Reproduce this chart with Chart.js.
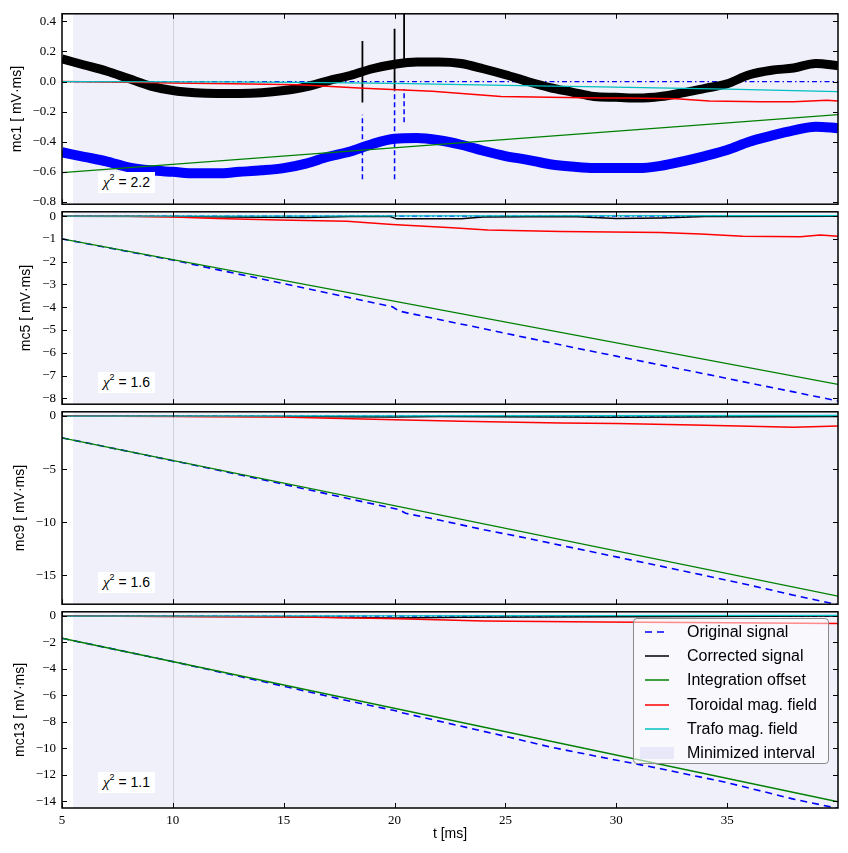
<!DOCTYPE html>
<html>
<head>
<meta charset="utf-8">
<title>Integrator drift correction</title>
<script src="https://cdn.jsdelivr.net/npm/chart.js@4.4.1/dist/chart.umd.min.js"></script>
<style>
    body { margin: 0; background: #fff; }
    #wrap { position: relative; width: 848px; height: 853px; overflow: hidden; }
    #wrap canvas { position: absolute; left: 0; }
    .chi {
        position: absolute; left: 98px; width: 57px; height: 21px;
        background: #fff; color: #000; text-align: center;
        font: 14px "Liberation Sans", Arial, sans-serif; line-height: 21px;
    }
    .chi i { font-family: "Liberation Serif", serif; font-size: 15px; }
    .chi sup { font-size: 9px; line-height: 0; position: relative; top: -1px; }
    #legend {
        position: absolute; left: 633px; top: 618px; width: 194px; height: 143px;
        border: 1px solid #8a8a8a; border-radius: 4px; background: rgba(255, 255, 255, 0.55);
        padding-top: 1px; box-sizing: content-box;
        font: 16px "Liberation Sans", Arial, sans-serif; color: #000;
    }
    #legend .row { height: 24.2px; display: flex; align-items: center; padding-left: 6px; }
    #legend svg { width: 34px; height: 14px; margin-right: 13px; flex: none; }
</style>
</head>
<body>
<div id="wrap">
    <canvas id="p0"></canvas>
    <canvas id="p1"></canvas>
    <canvas id="p2"></canvas>
    <canvas id="p3"></canvas>
    <div id="legend"></div>
</div>
<script>
// ---- shared axis data ----
const channelNames = ['mc1', 'mc5', 'mc9', 'mc13'];
const chi2Values = [2.2, 1.6, 1.6, 1.1];
const xTicks = [5, 10, 15, 20, 25, 30, 35];
const tRange = [5, 40];
const minInterval = [5.5, 40];
const markerTime = 10;
const zeroT = [5, 40];
const zeroV = [0, 0];

// ---- mc1 ----
const yTicks1 = [-0.8, -0.6, -0.4, -0.2, 0, 0.2, 0.4];
const yRange1 = [-0.815, 0.45];
const tGrid1 = [5, 6, 7, 8, 9, 10, 11, 12, 13, 14, 15, 16, 17, 18, 19, 20, 21, 22,
    23, 24, 25, 26, 27, 28, 29, 30, 31, 32, 33, 34, 35, 36, 37, 38, 39, 40];
const orig1 = [-0.47, -0.5, -0.53, -0.57, -0.59, -0.6, -0.61, -0.61, -0.6, -0.59, -0.575, -0.545,
    -0.5, -0.465, -0.415, -0.38, -0.375, -0.39, -0.42, -0.46, -0.495, -0.52, -0.55, -0.565,
    -0.575, -0.575, -0.575, -0.56, -0.53, -0.495, -0.455, -0.4, -0.36, -0.325, -0.3, -0.31];
const corr1 = [0.15, 0.11, 0.07, 0.02, -0.03, -0.06, -0.075, -0.08, -0.08, -0.075, -0.06, -0.035,
    0.005, 0.04, 0.085, 0.115, 0.13, 0.13, 0.12, 0.085, 0.045, 0.0, -0.04, -0.07,
    -0.1, -0.105, -0.11, -0.1, -0.075, -0.045, -0.015, 0.045, 0.075, 0.09, 0.12, 0.105];
const spikeT1 = [18.55, 20.0, 20.43];
const origSpikeLo1 = [-0.65, -0.65, -0.27];
const origSpikeHi1 = [-0.22, -0.06, -0.05];
const corrSpikeLo1 = [-0.14, -0.06, 0.14];
const corrSpikeHi1 = [0.27, 0.35, 0.5];
const offsT1 = [5, 40];
const offs1 = [-0.605, -0.22];
const torT1 = [5, 8, 10, 12.7, 15.7, 18.6, 21.7, 24.8, 27, 29.3, 30.5, 32.7, 34.2, 36.5, 38, 39.5, 40];
const tor1 = [0, -0.005, -0.01, -0.015, -0.022, -0.045, -0.065, -0.1, -0.105, -0.11, -0.11,
    -0.115, -0.13, -0.135, -0.135, -0.125, -0.13];
const trafoT1 = [5, 12, 15.7, 20, 25, 29.3, 35, 40];
const trafo1 = [0, -0.002, -0.006, -0.012, -0.025, -0.035, -0.05, -0.067];

// ---- mc5 ----
const yTicks2 = [-8, -7, -6, -5, -4, -3, -2, -1, 0];
const yRange2 = [-8.26, 0.19];
const origT2 = [5, 8, 10, 12, 14, 16, 18, 19.9, 20.2, 22, 24, 26, 28, 30, 32, 34, 36, 38, 40];
const orig2 = [-1.0, -1.56, -1.93, -2.35, -2.76, -3.17, -3.59, -3.98, -4.17, -4.54, -4.94,
    -5.35, -5.76, -6.15, -6.54, -6.93, -7.33, -7.72, -8.12];
const corrT2 = [5, 10, 14, 16, 18, 19.8, 20.1, 23, 24, 28, 30, 32, 34, 40];
const corr2 = [0, -0.02, -0.05, -0.06, -0.02, -0.02, -0.12, -0.12, -0.04, -0.02, -0.1, -0.08, -0.02, 0];
const offsT2 = [5, 40];
const offs2 = [-1.0, -7.39];
const torT2 = [5, 8, 10, 12, 14.8, 17.85, 19.9, 22.6, 24.2, 27.5, 32, 33.8, 35.7, 38.3, 39.2, 40];
const tor2 = [0, -0.01, -0.04, -0.1, -0.17, -0.23, -0.37, -0.51, -0.61, -0.68, -0.72, -0.79,
    -0.88, -0.91, -0.83, -0.88];
const trafoT2 = [5, 40];
const trafo2 = [0, 0.02];

// ---- mc9 ----
const yTicks3 = [-15, -10, -5, 0];
const yRange3 = [-17.7, 0.4];
const origT3 = [5, 8, 10, 12, 14, 16, 18, 20.2, 20.5, 22, 24, 26, 28, 30, 32, 34, 36, 38, 40];
const orig3 = [-2.05, -3.33, -4.2, -5.07, -5.96, -6.88, -7.8, -8.8, -9.15, -9.78, -10.68,
    -11.5, -12.38, -13.25, -14.12, -15.0, -15.9, -16.85, -17.75];
const corrT3 = [5, 15, 20, 22, 30, 40];
const corr3 = [0, -0.05, -0.1, -0.05, -0.12, -0.05];
const offsT3 = [5, 40];
const offs3 = [-2.05, -16.95];
const torT3 = [5, 10, 14.8, 20, 23, 27.5, 30, 33.5, 36, 38, 40];
const tor3 = [0, -0.05, -0.1, -0.35, -0.5, -0.65, -0.7, -0.85, -0.95, -1.06, -0.94];
const trafoT3 = [5, 40];
const trafo3 = [0, 0.05];

// ---- mc13 ----
const yTicks4 = [-14, -12, -10, -8, -6, -4, -2, 0];
const yRange4 = [-14.52, 0.32];
const origT4 = [5, 10, 15.7, 18, 20, 20.3, 22, 25, 27, 29.27, 32, 35, 38, 40];
const orig4 = [-1.68, -3.45, -5.57, -6.45, -7.15, -7.3, -7.95, -9.1, -9.9, -10.66, -11.55,
    -12.6, -13.85, -14.55];
const corrT4 = [5, 15, 20, 23, 30, 40];
const corr4 = [0, -0.05, -0.15, -0.1, -0.05, 0];
const offsT4 = [5, 40];
const offs4 = [-1.68, -14.05];
const torT4 = [5, 10, 15.7, 20.2, 24, 29.3, 35, 40];
const tor4 = [0, -0.03, -0.08, -0.2, -0.37, -0.45, -0.5, -0.57];
const trafoT4 = [5, 40];
const trafo4 = [0, 0.05];

const legendLabels = ['Original signal', 'Corrected signal', 'Integration offset',
    'Toroidal mag. field', 'Trafo mag. field', 'Minimized interval'];

// ---- styles ----
const colors = {
    orig: '#0000ff',
    corr: '#000000',
    offs: '#008000',
    tor: '#ff0000',
    trafo: '#00bfbf',
    span: '#f0f0fb',
    marker: '#cfd0dc'
};
const serif = '"Liberation Serif", "Times New Roman", serif';
const sans = '"Liberation Sans", Arial, sans-serif';

function pts(ts, vs) {
    return ts.map((t, i) => ({ x: t, y: vs[i] }));
}

function spikes(ts, lo, hi) {
    const out = [];
    ts.forEach((t, i) => {
        out.push({ x: t, y: lo[i] }, { x: t, y: hi[i] }, { x: t, y: null });
    });
    return out;
}

function fmt(v, digits) {
    const s = Math.abs(v).toFixed(digits);
    return (v < -1e-9 ? '\u2212' : '') + s;
}

const panels = [
    {
        ticks: yTicks1, range: yRange1, digits: 1, titleX: 17,
        orig: pts(tGrid1, orig1), corr: pts(tGrid1, corr1),
        origSpikes: spikes(spikeT1, origSpikeLo1, origSpikeHi1),
        corrSpikes: spikes(spikeT1, corrSpikeLo1, corrSpikeHi1),
        offs: pts(offsT1, offs1), tor: pts(torT1, tor1), trafo: pts(trafoT1, trafo1),
        band: true
    },
    {
        ticks: yTicks2, range: yRange2, digits: 0, titleX: 26,
        orig: pts(origT2, orig2), corr: pts(corrT2, corr2),
        offs: pts(offsT2, offs2), tor: pts(torT2, tor2), trafo: pts(trafoT2, trafo2)
    },
    {
        ticks: yTicks3, range: yRange3, digits: 0, titleX: 20,
        orig: pts(origT3, orig3), corr: pts(corrT3, corr3),
        offs: pts(offsT3, offs3), tor: pts(torT3, tor3), trafo: pts(trafoT3, trafo3)
    },
    {
        ticks: yTicks4, range: yRange4, digits: 0, titleX: 20,
        orig: pts(origT4, orig4), corr: pts(corrT4, corr4),
        offs: pts(offsT4, offs4), tor: pts(torT4, tor4), trafo: pts(trafoT4, trafo4)
    }
];

// panel plot areas in page pixels
const panelTop = [8, 208, 408, 608];
const panelHeight = 200;

// background span, marker line, inward ticks and frame
const panelDecor = {
    id: 'panelDecor',
    beforeDatasetsDraw(chart) {
        const { ctx, chartArea: a, scales: { x } } = chart;
        ctx.save();
        const x0 = x.getPixelForValue(minInterval[0]);
        const x1 = x.getPixelForValue(minInterval[1]);
        ctx.fillStyle = colors.span;
        ctx.fillRect(x0, a.top, x1 - x0, a.bottom - a.top);
        const xm = Math.round(x.getPixelForValue(markerTime)) + 0.5;
        ctx.strokeStyle = colors.marker;
        ctx.lineWidth = 1;
        ctx.beginPath();
        ctx.moveTo(xm, a.top);
        ctx.lineTo(xm, a.bottom);
        ctx.stroke();
        ctx.restore();
    },
    afterDraw(chart) {
        const { ctx, chartArea: a, scales: { x, y } } = chart;
        const yTicks = chart.options.plugins.panelDecor.yTicks;
        const len = 5;
        ctx.save();
        ctx.strokeStyle = '#000';
        ctx.lineWidth = 1;
        ctx.beginPath();
        xTicks.forEach(v => {
            const px = Math.round(x.getPixelForValue(v)) + 0.5;
            ctx.moveTo(px, a.top);
            ctx.lineTo(px, a.top + len);
            ctx.moveTo(px, a.bottom);
            ctx.lineTo(px, a.bottom - len);
        });
        yTicks.forEach(v => {
            const py = Math.round(y.getPixelForValue(v)) + 0.5;
            ctx.moveTo(a.left, py);
            ctx.lineTo(a.left + len, py);
            ctx.moveTo(a.right, py);
            ctx.lineTo(a.right - len, py);
        });
        ctx.stroke();
        ctx.lineWidth = 1.5;
        ctx.strokeRect(a.left, a.top, a.right - a.left, a.bottom - a.top);
        ctx.restore();
    }
};

function buildDatasets(p) {
    const sets = [
        {
            label: 'zero', data: pts(zeroT, zeroV), borderColor: colors.orig,
            borderWidth: 1.2, borderDash: [5, 3, 1.5, 3], order: 9
        },
        {
            label: 'Original signal', data: p.orig, borderColor: colors.orig,
            borderWidth: p.band ? 10 : 1.6, borderDash: p.band ? [] : [7, 5], order: 8,
            cubicInterpolationMode: p.band ? 'monotone' : 'default', tension: p.band ? 0.4 : 0
        },
        {
            label: 'Corrected signal', data: p.corr, borderColor: colors.corr,
            borderWidth: p.band ? 9 : 1.5, order: 6,
            cubicInterpolationMode: p.band ? 'monotone' : 'default', tension: p.band ? 0.4 : 0
        },
        {
            label: 'Integration offset', data: p.offs, borderColor: colors.offs,
            borderWidth: 1.3, order: 4
        },
        {
            label: 'Toroidal mag. field', data: p.tor, borderColor: colors.tor,
            borderWidth: 1.5, order: 3
        },
        {
            label: 'Trafo mag. field', data: p.trafo, borderColor: colors.trafo,
            borderWidth: 1.3, order: 2
        }
    ];
    if (p.origSpikes) {
        sets.push({
            label: 'orig spikes', data: p.origSpikes, borderColor: colors.orig,
            borderWidth: 1.5, borderDash: [5, 3], order: 7
        });
        sets.push({
            label: 'corr spikes', data: p.corrSpikes, borderColor: colors.corr,
            borderWidth: 1.8, order: 5
        });
    }
    sets.forEach(s => {
        s.fill = false;
        s.pointRadius = 0;
        if (s.tension === undefined) s.tension = 0;
        s.borderJoinStyle = 'round';
        s.spanGaps = false;
    });
    return sets;
}

panels.forEach((p, i) => {
    const isLast = i === panels.length - 1;
    const padTop = i === 0 ? 8 : 10;
    const padBottom = isLast ? 0 : 10;
    const xHeight = isLast ? 45 : 0;
    const canvas = document.getElementById('p' + i);
    const h = padTop + panelHeight + padBottom + xHeight;
    canvas.width = 848;
    canvas.height = h;
    canvas.style.top = (panelTop[i] - padTop) + 'px';

    new Chart(canvas.getContext('2d'), {
        type: 'line',
        data: { datasets: buildDatasets(p) },
        options: {
            responsive: false,
            animation: false,
            events: [],
            layout: { padding: { top: padTop, bottom: padBottom, left: 0, right: 10 } },
            plugins: {
                legend: { display: false },
                tooltip: { enabled: false },
                panelDecor: { yTicks: p.ticks }
            },
            scales: {
                x: {
                    type: 'linear',
                    min: tRange[0],
                    max: tRange[1],
                    display: isLast,
                    grid: { display: false, drawTicks: false },
                    border: { display: false },
                    afterBuildTicks: s => { s.ticks = xTicks.map(v => ({ value: v })); },
                    afterFit: s => { if (isLast) s.height = xHeight; },
                    ticks: {
                        padding: 5,
                        color: '#000',
                        maxRotation: 0,
                        font: { family: serif, size: 13 },
                        callback: v => String(v)
                    },
                    title: {
                        display: true,
                        text: 't [ms]',
                        color: '#000',
                        font: { family: sans, size: 14 },
                        padding: { top: 0, bottom: 10 }
                    }
                },
                y: {
                    type: 'linear',
                    min: p.range[0],
                    max: p.range[1],
                    grid: { display: false, drawTicks: false },
                    border: { display: false },
                    afterBuildTicks: s => { s.ticks = p.ticks.map(v => ({ value: v })); },
                    afterFit: s => { s.width = 62; },
                    ticks: {
                        padding: 6,
                        color: '#000',
                        font: { family: serif, size: 13 },
                        callback: v => fmt(v, p.digits)
                    },
                    title: {
                        display: true,
                        text: channelNames[i] + ' [ mV\u00b7ms]',
                        color: '#000',
                        font: { family: sans, size: 14 },
                        padding: { top: p.titleX - 8.4, bottom: 0 }
                    }
                }
            }
        },
        plugins: [panelDecor]
    });

    // chi-square label box
    const box = document.createElement('div');
    box.className = 'chi';
    box.style.top = (panelTop[i] + 164) + 'px';
    box.innerHTML = '<i>\u03c7</i><sup>2</sup> = ' + chi2Values[i].toFixed(1);
    document.getElementById('wrap').appendChild(box);
});

// legend
const legendSamples = [
    '<line x1="5" y1="7" x2="29" y2="7" stroke="' + colors.orig + '" stroke-width="1.6" stroke-dasharray="7,5"/>',
    '<line x1="5" y1="7" x2="29" y2="7" stroke="' + colors.corr + '" stroke-width="1.5"/>',
    '<line x1="5" y1="7" x2="29" y2="7" stroke="' + colors.offs + '" stroke-width="1.5"/>',
    '<line x1="5" y1="7" x2="29" y2="7" stroke="' + colors.tor + '" stroke-width="1.5"/>',
    '<line x1="5" y1="7" x2="29" y2="7" stroke="' + colors.trafo + '" stroke-width="1.5"/>',
    '<rect x="0" y="1" width="34" height="12" fill="#e8e8f8"/>'
];
const legend = document.getElementById('legend');
legendLabels.forEach((label, i) => {
    const row = document.createElement('div');
    row.className = 'row';
    row.innerHTML = '<svg viewBox="0 0 34 14">' + legendSamples[i] + '</svg><span>' + label + '</span>';
    legend.appendChild(row);
});
</script>
</body>
</html>
